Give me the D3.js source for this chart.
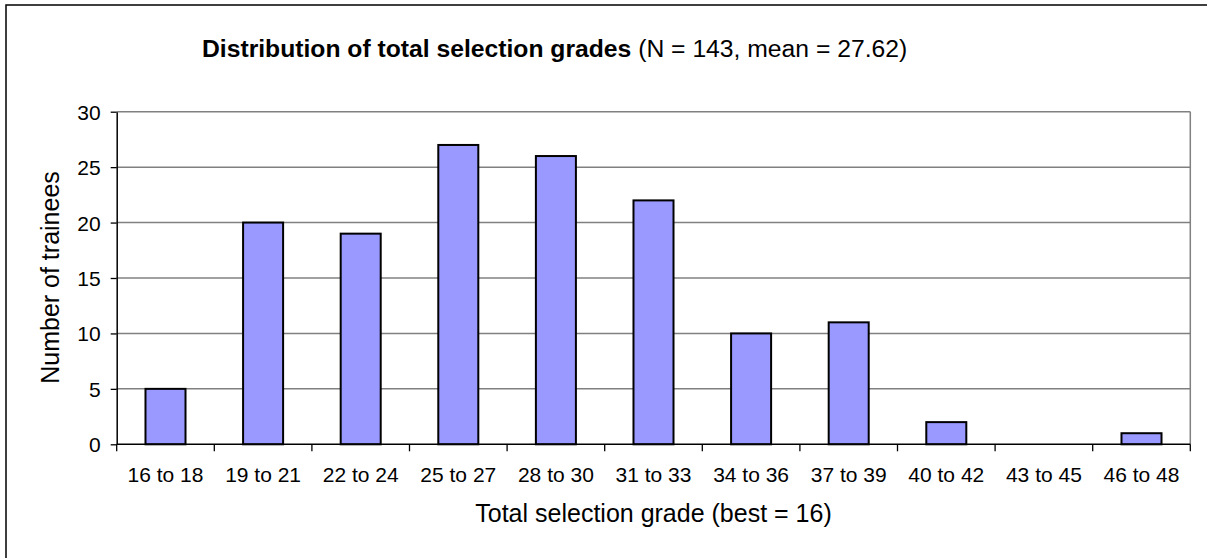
<!DOCTYPE html>
<html>
<head>
<meta charset="utf-8">
<script src="https://cdn.jsdelivr.net/npm/d3@7"></script>
<style>
  body { margin: 0; background: #fff; }
  text { font-family: Arial, "Liberation Sans", sans-serif; fill: #000; }
</style>
</head>
<body>
<div id="chart"></div>
<script>
// data
var categories = ["16 to 18", "19 to 21", "22 to 24", "25 to 27", "28 to 30", "31 to 33",
                  "34 to 36", "37 to 39", "40 to 42", "43 to 45", "46 to 48"];
var counts = [5, 20, 19, 27, 26, 22, 10, 11, 2, 0, 1];
var yTicks = [0, 5, 10, 15, 20, 25, 30];

var width = 1207, height = 558;
var plotBox = {left: 116.7, top: 111.7, right: 1190.3, bottom: 444.3};

var svg = d3.select("#chart").append("svg")
    .attr("width", width)
    .attr("height", height);

// outer frame (runs off the right and bottom edges)
svg.append("rect")
    .attr("x", 6).attr("y", 5)
    .attr("width", 1230).attr("height", 580)
    .attr("fill", "none")
    .attr("stroke", "#000")
    .attr("stroke-width", 1.5);

var x = d3.scaleBand()
    .domain(categories)
    .range([plotBox.left, plotBox.right])
    .paddingInner(0.59)
    .paddingOuter(0.295);

var xTickScale = d3.scaleBand().domain(categories).range([plotBox.left, plotBox.right]);

var y = d3.scaleLinear()
    .domain([0, 30])
    .range([plotBox.bottom, plotBox.top]);

// gridlines
svg.append("g").selectAll("line")
    .data(yTicks.slice(1))
    .enter().append("line")
    .attr("x1", plotBox.left).attr("x2", plotBox.right)
    .attr("y1", d => y(d)).attr("y2", d => y(d))
    .attr("stroke", "#808080")
    .attr("stroke-width", 1.5);

// right border of plot area
svg.append("line")
    .attr("x1", plotBox.right).attr("x2", plotBox.right)
    .attr("y1", plotBox.top).attr("y2", plotBox.bottom)
    .attr("stroke", "#808080")
    .attr("stroke-width", 1.5);

// bars
svg.append("g").selectAll("rect")
    .data(counts)
    .enter().append("rect")
    .attr("x", (d, i) => x(categories[i]))
    .attr("y", d => y(d))
    .attr("width", x.bandwidth())
    .attr("height", d => y(0) - y(d))
    .attr("fill", "#9999ff")
    .attr("stroke", "#000")
    .attr("stroke-width", d => d > 0 ? 2 : 0);

// y axis
var yAxis = svg.append("g")
    .attr("transform", "translate(" + plotBox.left + ",0)")
    .call(d3.axisLeft(y).tickValues(yTicks).tickSize(6).tickPadding(10).tickSizeOuter(0));
yAxis.select(".domain").attr("stroke", "#000").attr("stroke-width", 1.5);
yAxis.selectAll(".tick line").attr("stroke", "#000").attr("stroke-width", 1.3);
yAxis.selectAll("text").style("font-size", "21px").attr("dy", "0.36em");

// x axis, ticks between the categories
var xAxis = svg.append("g")
    .attr("transform", "translate(0," + plotBox.bottom + ")");
xAxis.append("line")
    .attr("x1", plotBox.left).attr("x2", plotBox.right)
    .attr("stroke", "#000").attr("stroke-width", 1.5);
var edges = categories.map(c => xTickScale(c)).concat([plotBox.right]);
xAxis.selectAll("line.tk")
    .data(edges)
    .enter().append("line")
    .attr("class", "tk")
    .attr("x1", d => d).attr("x2", d => d)
    .attr("y1", 0).attr("y2", 7)
    .attr("stroke", "#000").attr("stroke-width", 1.3);
xAxis.selectAll("text")
    .data(categories)
    .enter().append("text")
    .attr("x", d => xTickScale(d) + xTickScale.bandwidth() / 2)
    .attr("y", 37.4)
    .attr("text-anchor", "middle")
    .style("font-size", "21px")
    .text(d => d);

// axis titles
svg.append("text")
    .attr("x", (plotBox.left + plotBox.right) / 2)
    .attr("y", 521.7)
    .attr("text-anchor", "middle")
    .style("font-size", "25px")
    .text("Total selection grade (best = 16)");

svg.append("text")
    .attr("transform", "translate(59,277.5) rotate(-90)")
    .attr("text-anchor", "middle")
    .style("font-size", "25px")
    .text("Number of trainees");

// chart title
var title = svg.append("text")
    .attr("x", 202)
    .attr("y", 57)
    .style("font-size", "24.7px");
title.append("tspan").style("font-weight", "bold").text("Distribution of total selection grades");
title.append("tspan").text(" (N = 143, mean = 27.62)");
</script>
</body>
</html>
